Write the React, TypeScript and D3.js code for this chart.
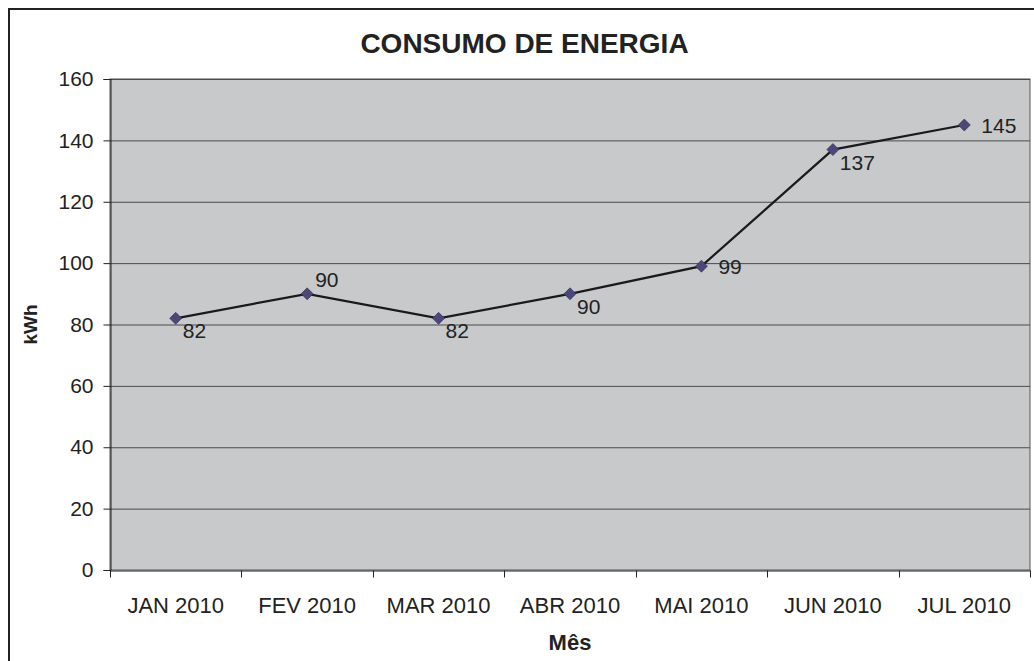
import React, { useEffect, useRef } from "react";
import * as d3 from "d3";

const months = ["JAN 2010", "FEV 2010", "MAR 2010", "ABR 2010", "MAI 2010", "JUN 2010", "JUL 2010"];
const consumo = [82, 90, 82, 90, 99, 137, 145];
// label placement per point: "below", "above", "right"
const labelPos = ["below", "above", "below", "below", "right", "below", "right"];
const yTicks = [0, 20, 40, 60, 80, 100, 120, 140, 160];

const App = () => {
  const svgRef = useRef<SVGSVGElement>(null);

  useEffect(() => {
    const width = 1034;
    const height = 661;
    const margin = { top: 79, right: 4, bottom: 91, left: 110 };
    const font = "'Liberation Sans', Arial, sans-serif";

    const svg = d3.select(svgRef.current);
    svg.selectAll("*").remove();

    // outer frame (cut off at right and bottom)
    svg.append("rect")
      .attr("x", 9).attr("y", 9)
      .attr("width", width + 20).attr("height", height + 20)
      .attr("fill", "white").attr("stroke", "#222").attr("stroke-width", 2);

    const x = d3.scaleBand().domain(months).range([margin.left, width - margin.right]);
    const y = d3.scaleLinear().domain([0, 160]).range([height - margin.bottom, margin.top]);

    // plot area
    svg.append("rect")
      .attr("x", margin.left).attr("y", margin.top)
      .attr("width", width - margin.right - margin.left)
      .attr("height", height - margin.bottom - margin.top)
      .attr("fill", "#c8c9cb").attr("stroke", "#555").attr("stroke-width", 1);

    // grid
    svg.append("g").selectAll("line").data(yTicks.filter((t) => t > 0)).join("line")
      .attr("x1", margin.left).attr("x2", width - margin.right)
      .attr("y1", (d) => y(d) + 0.5).attr("y2", (d) => y(d) + 0.5)
      .attr("stroke", "#4a4a4a").attr("stroke-width", 1);

    // y axis
    const yAxis = svg.append("g")
      .attr("transform", `translate(${margin.left + 0.5},0)`)
      .call(d3.axisLeft(y).tickValues(yTicks).tickSize(7).tickPadding(10));
    yAxis.select(".domain").attr("stroke", "#222");
    yAxis.selectAll("line").attr("stroke", "#222");
    yAxis.selectAll("text").attr("font-family", font).attr("font-size", 21).attr("fill", "#222");

    // x axis
    const xAxis = svg.append("g")
      .attr("transform", `translate(0,${height - margin.bottom + 0.5})`)
      .call(d3.axisBottom(x).tickSize(0).tickPadding(27));
    xAxis.select(".domain").attr("stroke", "#222");
    xAxis.selectAll("text").attr("font-family", font).attr("font-size", 22).attr("fill", "#222");
    xAxis.append("g").selectAll("line")
      .data(months.map((m) => x(m)!).concat([width - margin.right]))
      .join("line")
      .attr("x1", (d) => Math.round(d) + 0.5).attr("x2", (d) => Math.round(d) + 0.5)
      .attr("y1", 0).attr("y2", 7)
      .attr("stroke", "#222");

    const cx = (i: number) => x(months[i])! + x.bandwidth() / 2;

    // line
    const line = d3.line<number>().x((_, i) => cx(i)).y((d) => y(d));
    svg.append("path").datum(consumo)
      .attr("d", line).attr("fill", "none")
      .attr("stroke", "#1a1a1a").attr("stroke-width", 2.2);

    // markers (square rotated 45 degrees)
    svg.append("g").selectAll("path").data(consumo).join("path")
      .attr("d", d3.symbol(d3.symbolSquare, 72)())
      .attr("transform", (d, i) => `translate(${cx(i)},${y(d)}) rotate(45)`)
      .attr("fill", "#4b4878").attr("stroke", "#2e2c55").attr("stroke-width", 0.6);

    // data labels
    svg.append("g").selectAll("text").data(consumo).join("text")
      .attr("x", (d, i) => cx(i) + (labelPos[i] === "right" ? 17 : labelPos[i] === "above" ? 8 : 7))
      .attr("y", (d, i) => y(d) + (labelPos[i] === "below" ? 20 : labelPos[i] === "above" ? -7 : 8))
      .attr("font-family", font).attr("font-size", 21).attr("fill", "#222")
      .text((d) => d);

    // title
    svg.append("text")
      .attr("x", 524.5).attr("y", 53).attr("text-anchor", "middle")
      .attr("font-family", font).attr("font-size", 28).attr("font-weight", "bold").attr("fill", "#222")
      .text("CONSUMO DE ENERGIA");

    // axis titles
    svg.append("text")
      .attr("transform", `translate(37,${(margin.top + height - margin.bottom) / 2}) rotate(-90)`)
      .attr("text-anchor", "middle")
      .attr("font-family", font).attr("font-size", 19).attr("font-weight", "bold").attr("fill", "#222")
      .text("kWh");

    svg.append("text")
      .attr("x", (margin.left + width - margin.right) / 2).attr("y", 650).attr("text-anchor", "middle")
      .attr("font-family", font).attr("font-size", 22).attr("font-weight", "bold").attr("fill", "#222")
      .text("Mês");
  }, []);

  return (
    <svg
      ref={svgRef}
      width={1034}
      height={661}
      style={{ position: "absolute", left: 0, top: 0, display: "block", background: "white" }}
    />
  );
};

export default App;
